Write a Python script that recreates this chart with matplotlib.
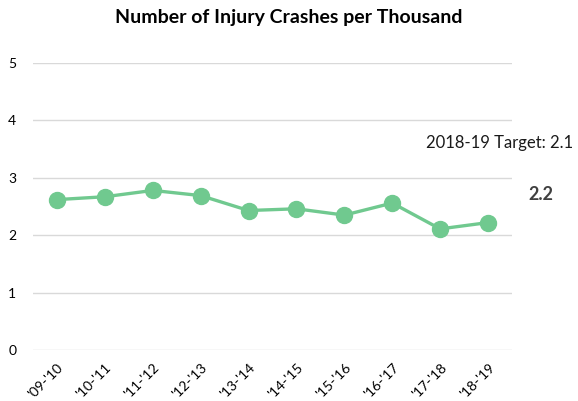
import numpy as np
import matplotlib.pyplot as plt

plt.rcParams['font.family'] = ['Lato', 'DejaVu Sans']

seasons = ["'09-'10", "'10-'11", "'11-'12", "'12-'13", "'13-'14",
           "'14-'15", "'15-'16", "'16-'17", "'17-'18", "'18-'19"]
crashes = [2.62, 2.67, 2.78, 2.69, 2.43, 2.46, 2.35, 2.56, 2.11, 2.22]
target_text = "2018-19 Target: 2.1"
last_label = "2.2"

green = '#70c98f'

fig = plt.figure(figsize=(5.78, 4.01), dpi=100)
ax = fig.add_axes([33 / 578, 1 - 350 / 401, 479 / 578, 287 / 401])

x = np.arange(len(seasons))
ax.plot(x, crashes, color=green, lw=2.4, marker='o', ms=11.5, zorder=3)

ax.set_xlim(-0.5, len(seasons) - 0.5)
ax.set_ylim(0, 5)
ax.set_yticks(range(6))
ax.set_xticks(x)
ax.set_xticklabels(seasons, rotation=45, ha='right', rotation_mode='anchor')
ax.tick_params(length=0, labelsize=10, colors='#000000', pad=8)
ax.tick_params(axis='y', pad=12)
ax.grid(axis='y', color='#d9d9d9', lw=1)
ax.set_axisbelow(True)
for s in ax.spines.values():
    s.set_visible(False)

fig.text(0.5, 1 - 18 / 401, "Number of Injury Crashes per Thousand",
         ha='center', va='center', fontsize=14, fontweight='bold')
fig.text(573 / 578, 1 - 143 / 401, target_text, ha='right', va='center',
         fontsize=12, color='#1a1a1a')
ax.annotate(last_label, (x[-1], crashes[-1]), xytext=(38, 20),
            textcoords='offset points', ha='center', va='center',
            fontsize=13, fontweight='bold', color='#404040')

fig.savefig('out.png', dpi=100)
